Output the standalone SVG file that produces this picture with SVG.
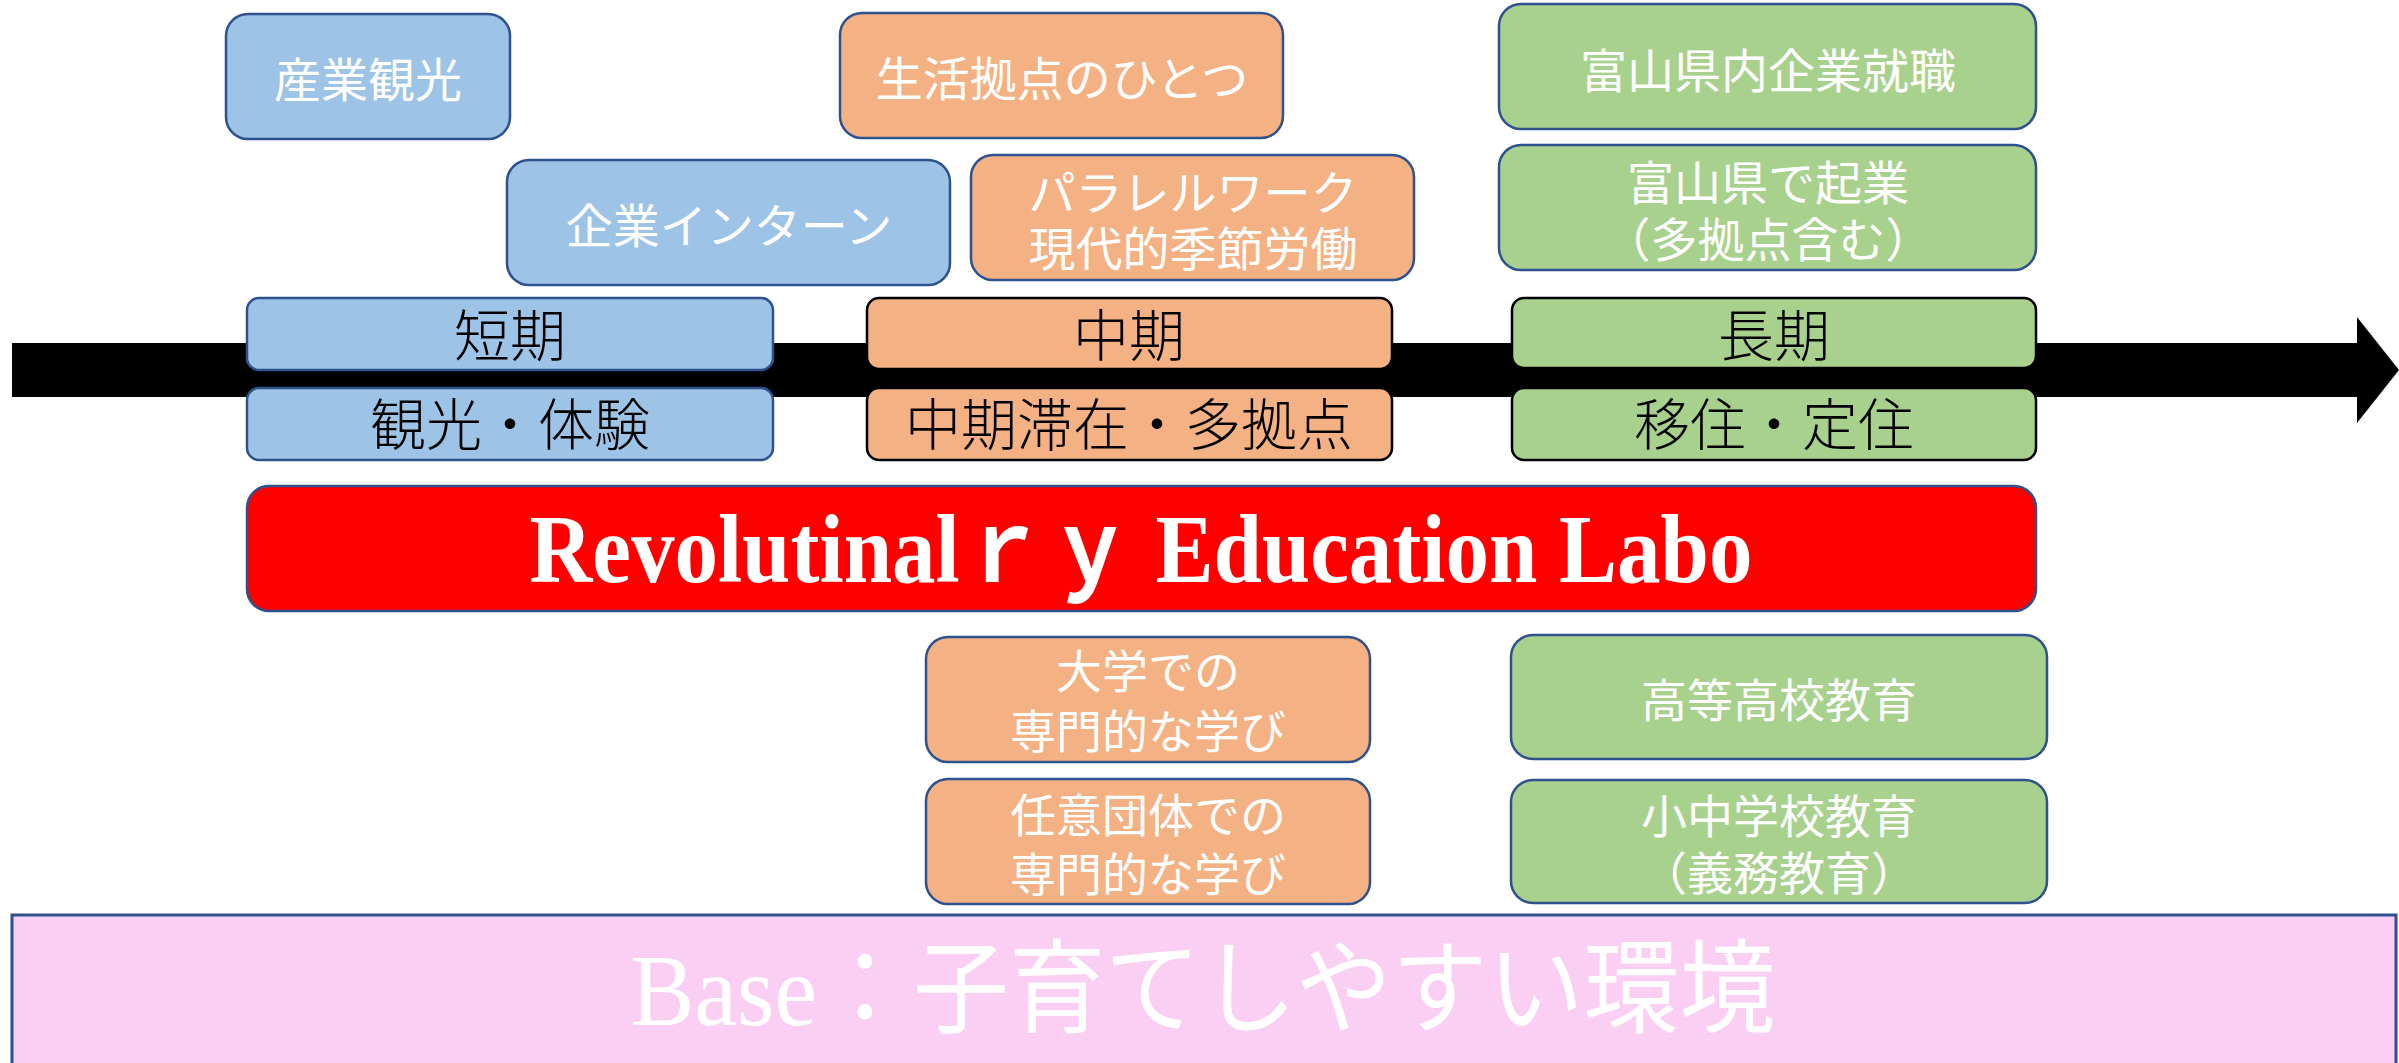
<svg xmlns="http://www.w3.org/2000/svg" width="2399" height="1063" viewBox="0 0 2399 1063">
<style>
.blue{fill:#9DC3E6;stroke:#2F528F;stroke-width:2.5}
.orange{fill:#F4B183;stroke:#2F528F;stroke-width:2.5}
.green{fill:#A9D18E;stroke:#2F528F;stroke-width:2.5}
.orangeK{fill:#F4B183;stroke:#000;stroke-width:2.5}
.greenK{fill:#A9D18E;stroke:#000;stroke-width:2.5}
.wt{fill:#fff;font-family:"Noto Sans CJK JP","Noto Sans",sans-serif;font-size:47px;text-anchor:middle;dominant-baseline:central}
.wb{fill:#fff;font-family:"Noto Sans CJK JP","Noto Sans",sans-serif;font-size:46px;text-anchor:middle;dominant-baseline:central}
.bk{fill:#000;font-family:"Noto Sans CJK JP","Noto Sans",sans-serif;font-size:56px;font-weight:300;text-anchor:middle;dominant-baseline:central}
</style>
<g id="timeline">
<polygon points="12,343 2357,343 2357,317 2399,370 2357,423 2357,397 12,397" fill="#000"/>
</g>
<g id="base">
<rect x="12" y="915" width="2384" height="160" fill="#FACFF3" stroke="#2F528F" stroke-width="3"/>
<text x="1203" y="1025" fill="#fff" font-family="'Liberation Serif','Noto Sans CJK JP',serif" font-size="102" text-anchor="middle" textLength="1145" lengthAdjust="spacingAndGlyphs">Base：子育てしやすい環境</text>
</g>
<g id="sangyo">
<rect class="blue" x="226" y="14" width="284" height="125" rx="22"/>
<text class="wt" x="368" y="76">産業観光</text>
</g>
<g id="intern">
<rect class="blue" x="507" y="160" width="443" height="125" rx="22"/>
<text class="wt" x="729" y="222">企業インターン</text>
</g>
<g id="seikatsu">
<rect class="orange" x="840" y="13" width="443" height="125" rx="22"/>
<text class="wt" x="1062" y="75">生活拠点のひとつ</text>
</g>
<g id="parallel">
<rect class="orange" x="971" y="155" width="443" height="125" rx="22"/>
<text class="wt" x="1193" y="189">パラレルワーク</text>
<text class="wt" x="1193" y="245">現代的季節労働</text>
</g>
<g id="shushoku">
<rect class="green" x="1499" y="4" width="537" height="125" rx="22"/>
<text class="wt" x="1768" y="67">富山県内企業就職</text>
</g>
<g id="kigyo">
<rect class="green" x="1499" y="145" width="537" height="125" rx="22"/>
<text class="wt" x="1768" y="179">富山県で起業</text>
<text class="wt" x="1768" y="236">（多拠点含む）</text>
</g>
<g id="tanki">
<rect class="blue" x="247" y="298" width="526" height="72" rx="12"/>
<text class="bk" x="510" y="331">短期</text>
</g>
<g id="kanko">
<rect class="blue" x="247" y="388" width="526" height="72" rx="12"/>
<text class="bk" x="510" y="420">観光・体験</text>
</g>
<g id="chuki">
<rect class="orangeK" x="867" y="298" width="525" height="71" rx="12"/>
<text class="bk" x="1129" y="331">中期</text>
</g>
<g id="chukitaizai">
<rect class="orangeK" x="867" y="388" width="525" height="72" rx="12"/>
<text class="bk" x="1129" y="420">中期滞在・多拠点</text>
</g>
<g id="choki">
<rect class="greenK" x="1512" y="298" width="524" height="70" rx="12"/>
<text class="bk" x="1774" y="331">長期</text>
</g>
<g id="iju">
<rect class="greenK" x="1512" y="388" width="524" height="72" rx="12"/>
<text class="bk" x="1774" y="420">移住・定住</text>
</g>
<g id="labo">
<rect x="247" y="486" width="1789" height="125" rx="22" fill="#FF0000" stroke="#2F528F" stroke-width="2.5"/>
<text x="1141" y="582" fill="#fff" font-family="'Liberation Serif','Noto Sans CJK JP',serif" font-size="98" font-weight="bold" text-anchor="middle" textLength="1223" lengthAdjust="spacingAndGlyphs">Revolutinalｒｙ Education Labo</text>
</g>
<g id="daigaku">
<rect class="orange" x="926" y="637" width="444" height="125" rx="22"/>
<text class="wb" x="1148" y="668">大学での</text>
<text class="wb" x="1148" y="728">専門的な学び</text>
</g>
<g id="nini">
<rect class="orange" x="926" y="779" width="444" height="125" rx="22"/>
<text class="wb" x="1148" y="812">任意団体での</text>
<text class="wb" x="1148" y="871">専門的な学び</text>
</g>
<g id="koto">
<rect class="green" x="1511" y="635" width="536" height="124" rx="22"/>
<text class="wb" x="1779" y="697">高等高校教育</text>
</g>
<g id="shochu">
<rect class="green" x="1511" y="780" width="536" height="123" rx="22"/>
<text class="wb" x="1779" y="813">小中学校教育</text>
<text class="wb" x="1779" y="870">（義務教育）</text>
</g>
</svg>
